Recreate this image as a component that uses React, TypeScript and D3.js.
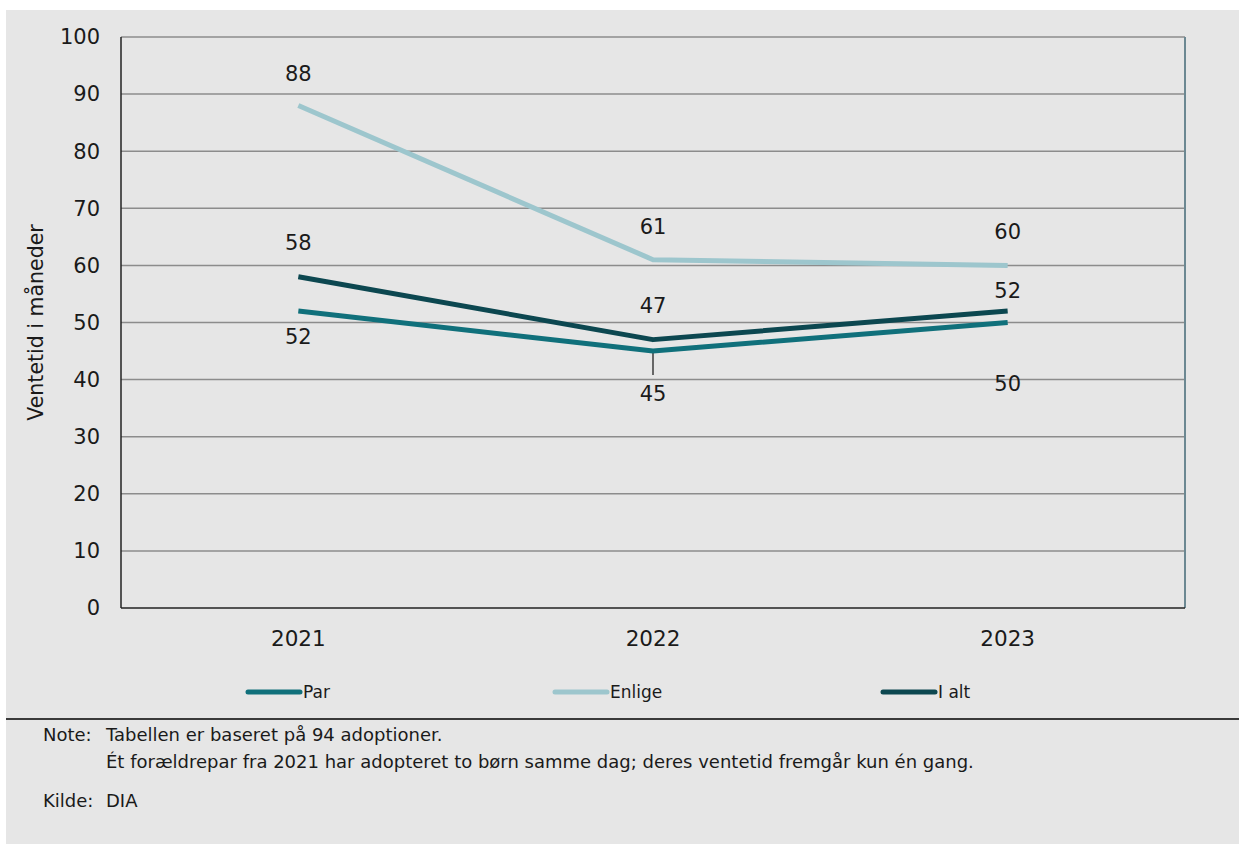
import React from "react";
import * as d3 from "d3";

const years = ["2021", "2022", "2023"];
const par = [52, 45, 50];
const enlige = [88, 61, 60];
const iAlt = [58, 47, 52];
const yTicks = [0, 10, 20, 30, 40, 50, 60, 70, 80, 90, 100];
const seriesNames = ["Par", "Enlige", "I alt"];

const W = 1239;
const H = 844;
const FONT = "'DejaVu Sans', Verdana, sans-serif";

export default function App() {
  const margin = { left: 121, right: 1185, top: 37, bottom: 608 };
  const x = d3.scalePoint<string>().domain(years).range([margin.left, margin.right]).padding(0.5);
  const y = d3.scaleLinear().domain([0, 100]).range([margin.bottom, margin.top]);
  const line = d3
    .line<number>()
    .x((_, i) => x(years[i]) as number)
    .y((d) => y(d));

  const series = [
    { name: seriesNames[0], values: par, color: "#10707b", dy: [26, 43, 61] },
    { name: seriesNames[1], values: enlige, color: "#9dc6cd", dy: [-32, -33, -34] },
    { name: seriesNames[2], values: iAlt, color: "#0c4750", dy: [-34, -34, -20] },
  ];
  const legendX = [248, 555, 883];

  return (
    <svg width={W} height={H} style={{ position: "absolute", left: 0, top: 0, display: "block" }}>
      <rect x={0} y={0} width={W} height={H} fill="#ffffff" />
      <rect x={6} y={10} width={W - 6} height={H - 10} fill="#e6e6e6" />
      {yTicks.map((t) => (
        <g key={t}>
          {t > 0 && (
            <line x1={margin.left} x2={margin.right} y1={y(t)} y2={y(t)} stroke="#8c8c8c" strokeWidth={1.5} />
          )}
          <text x={100} y={y(t)} dy="0.35em" textAnchor="end" fontFamily={FONT} fontSize={21} fill="#1a1a1a">
            {t}
          </text>
        </g>
      ))}
      <line x1={margin.right} x2={margin.right} y1={margin.top} y2={margin.bottom} stroke="#6c8892" strokeWidth={2} />
      <line x1={margin.left} x2={margin.left} y1={margin.top} y2={margin.bottom} stroke="#222" strokeWidth={1.5} />
      <line x1={margin.left} x2={margin.right} y1={margin.bottom} y2={margin.bottom} stroke="#222" strokeWidth={1.5} />
      {years.map((yr) => (
        <text key={yr} x={x(yr)} y={638} dy="0.35em" textAnchor="middle" fontFamily={FONT} fontSize={21.5} fill="#1a1a1a">
          {yr}
        </text>
      ))}
      <text
        transform={`translate(36, ${(margin.top + margin.bottom) / 2}) rotate(-90)`}
        textAnchor="middle"
        dy="0.35em"
        fontFamily={FONT}
        fontSize={20.5}
        fill="#1a1a1a"
      >
        Ventetid i måneder
      </text>
      {/* leader line for Par 2022 */}
      <line x1={x(years[1])} x2={x(years[1])} y1={y(par[1]) + 1} y2={375} stroke="#111" strokeWidth={1.2} />
      {series.map((s) => (
        <path key={s.name} d={line(s.values) || ""} fill="none" stroke={s.color} strokeWidth={5} strokeLinejoin="round" />
      ))}
      {series.map((s) =>
        s.values.map((v, i) => (
          <text
            key={s.name + i}
            x={x(years[i])}
            y={y(v) + s.dy[i]}
            dy="0.35em"
            textAnchor="middle"
            fontFamily={FONT}
            fontSize={21}
            fill="#1a1a1a"
          >
            {v}
          </text>
        ))
      )}
      {series.map((s, i) => (
        <g key={"lg" + s.name}>
          <line x1={legendX[i]} x2={legendX[i] + 52} y1={692} y2={692} stroke={s.color} strokeWidth={5} strokeLinecap="round" />
          <text x={legendX[i] + 55} y={692} dy="0.35em" fontFamily={FONT} fontSize={17} fill="#1a1a1a">
            {s.name}
          </text>
        </g>
      ))}
      <line x1={6} x2={W} y1={719} y2={719} stroke="#3a3a3a" strokeWidth={2} />
      <g fontFamily={FONT} fontSize={18} fill="#1a1a1a">
        <text x={43} y={741}>Note:</text>
        <text x={106} y={741}>Tabellen er baseret på 94 adoptioner.</text>
        <text x={106} y={768}>Ét forældrepar fra 2021 har adopteret to børn samme dag; deres ventetid fremgår kun én gang.</text>
        <text x={43} y={807}>Kilde:</text>
        <text x={106} y={807}>DIA</text>
      </g>
    </svg>
  );
}
